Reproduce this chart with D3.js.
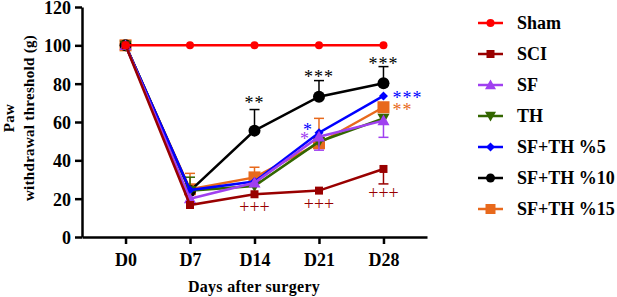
<!DOCTYPE html>
<html lang="en">
<head>
  <meta charset="UTF-8">
  <title>Paw withdrawal threshold</title>
  <script src="https://d3js.org/d3.v7.min.js"></script>
  <style>
    body { margin: 0; background: #fff; }
    svg text { font-family: "Liberation Serif", "Times New Roman", serif; }
  </style>
</head>
<body>
  <div id="chart"></div>
  <script>
    // days and group values (g)
    const days = ["D0", "D7", "D14", "D21", "D28"];
    const yTicks = [0, 20, 40, 60, 80, 100, 120];

    const sham = [100, 100, 100, 100, 100];
    const sci = [100, 16.7, 22.3, 24.2, 35.5];
    const sf = [100, 20.0, 28.3, 52.3, 60.7];
    const th = [100, 24.2, 26.6, 49.7, 61.9];
    const sfth5 = [100, 24.5, 28.9, 54.4, 73.6];
    const sfth10 = [100, 24.0, 55.5, 73.2, 80.2];
    const sfth15 = [100, 24.9, 31.1, 48.9, 67.7];

    // error bars (positive = drawn up, negative = drawn down)
    const sciErr = [0, 0, 0, 0, -7.8];
    const sfErr = [0, 0, 0, -7, -8.7];
    const thErr = [0, 7, 0, 0, 0];
    const sfth5Err = [0, 0, 0, 0, 0];
    const sfth10Err = [0, 0, 11, 8.4, 8.7];
    const sfth15Err = [0, 8.3, 5.3, 13, 0];

    // legend order
    const groups = [
      { name: "Sham", values: sham, err: null, color: "#ff0000", shape: "circle", size: 4 },
      { name: "SCI", values: sci, err: sciErr, color: "#990000", shape: "square", size: 8 },
      { name: "SF", values: sf, err: sfErr, color: "#a040f0", shape: "tri", size: 11 },
      { name: "TH", values: th, err: thErr, color: "#336600", shape: "tridown", size: 11 },
      { name: "SF+TH %5", values: sfth5, err: sfth5Err, color: "#0000ff", shape: "diamond", size: 9 },
      { name: "SF+TH %10", values: sfth10, err: sfth10Err, color: "#000000", shape: "circle", size: 6 },
      { name: "SF+TH %15", values: sfth15, err: sfth15Err, color: "#e8691c", shape: "square", size: 12 }
    ];
    // order in which lines are stacked
    const drawOrder = ["SF+TH %15", "SF+TH %10", "TH", "SF+TH %5", "SF", "SCI", "Sham"];

    // significance marks: day, value, text, colour, dx, anchor
    const marks = [
      { day: "D14", v: 71.5, t: "**", c: "#000", dx: 0, a: "middle" },
      { day: "D21", v: 85, t: "***", c: "#000", dx: 0, a: "middle" },
      { day: "D28", v: 91.8, t: "***", c: "#000", dx: 0, a: "middle" },
      { day: "D21", v: 57.4, t: "*", c: "#0000ff", dx: -11, a: "middle" },
      { day: "D21", v: 52.7, t: "*", c: "#a040f0", dx: -14, a: "middle" },
      { day: "D28", v: 74, t: "***", c: "#0000ff", dx: 9, a: "start" },
      { day: "D28", v: 67.8, t: "**", c: "#e8691c", dx: 9, a: "start" }
    ];
    const crosses = [
      { day: "D14", v: 15.6 },
      { day: "D21", v: 17.2 },
      { day: "D28", v: 23 }
    ];

    const W = 617, H = 297;
    const svg = d3.select("#chart").append("svg")
      .attr("width", W).attr("height", H);

    const x = d3.scalePoint().domain(days).range([82, 427]).padding(0.675);
    const y = d3.scaleLinear().domain([0, 120]).range([237, 7]);

    // axes
    const yAxis = svg.append("g")
      .attr("transform", "translate(82,0)")
      .call(d3.axisLeft(y).tickValues(yTicks).tickSize(7).tickPadding(4).tickSizeOuter(0));
    const xAxis = svg.append("g")
      .attr("transform", "translate(0,237)")
      .call(d3.axisBottom(x).tickSize(7).tickPadding(9).tickSizeOuter(0));

    [yAxis, xAxis].forEach(g => {
      g.select(".domain").attr("stroke", "#000").attr("stroke-width", 2.5);
      g.selectAll(".tick line").attr("stroke", "#000").attr("stroke-width", 2.5);
      g.selectAll(".tick text")
        .attr("fill", "#000")
        .attr("font-family", "Liberation Serif, Times New Roman, serif")
        .attr("font-weight", "bold")
        .attr("font-size", 18);
    });
    yAxis.selectAll(".tick text").attr("dy", "0.36em");

    // axis titles
    svg.append("text")
      .attr("x", 254).attr("y", 292)
      .attr("text-anchor", "middle")
      .attr("font-weight", "bold").attr("font-size", 16)
      .attr("letter-spacing", 0.3)
      .text("Days after surgery");

    const yt = svg.append("text")
      .attr("transform", "translate(0,118) rotate(-90)")
      .attr("text-anchor", "middle")
      .attr("font-weight", "bold").attr("font-size", 15)
      .attr("letter-spacing", 0.3);
    yt.append("tspan").attr("x", 0).attr("y", 14).text("Paw");
    yt.append("tspan").attr("x", 0).attr("y", 34).text("withdrawal threshold (g)");

    function symbolPath(shape, size) {
      const s = size;
      if (shape === "square") return `M${-s / 2},${-s / 2}h${s}v${s}h${-s}Z`;
      if (shape === "tri") return `M0,${-s * 0.55}L${s * 0.55},${s * 0.42}L${-s * 0.55},${s * 0.42}Z`;
      if (shape === "tridown") return `M0,${s * 0.55}L${s * 0.55},${-s * 0.42}L${-s * 0.55},${-s * 0.42}Z`;
      if (shape === "diamond") return `M0,${-s / 2}L${s / 2},0L0,${s / 2}L${-s / 2},0Z`;
      return null;
    }

    function drawMarker(g, d, cx, cy) {
      if (d.shape === "circle") {
        g.append("circle").attr("cx", cx).attr("cy", cy).attr("r", d.size).attr("fill", d.color);
      } else {
        g.append("path")
          .attr("transform", `translate(${cx},${cy})`)
          .attr("d", symbolPath(d.shape, d.size))
          .attr("fill", d.color);
      }
    }

    const line = d3.line().x((v, i) => x(days[i])).y(v => y(v));
    const plot = svg.append("g");

    drawOrder.forEach(name => {
      const d = groups.find(g => g.name === name);
      const g = plot.append("g");

      if (d.err) {
        d.err.forEach((e, i) => {
          if (!e) return;
          const cx = x(days[i]);
          const tip = y(d.values[i] + e);
          g.append("line")
            .attr("x1", cx).attr("x2", cx)
            .attr("y1", y(d.values[i])).attr("y2", tip)
            .attr("stroke", d.color).attr("stroke-width", 1.5);
          g.append("line")
            .attr("x1", cx - 5).attr("x2", cx + 5)
            .attr("y1", tip).attr("y2", tip)
            .attr("stroke", d.color).attr("stroke-width", 1.5);
        });
      }

      g.append("path")
        .datum(d.values)
        .attr("d", line)
        .attr("fill", "none")
        .attr("stroke", d.color)
        .attr("stroke-width", 2.5);

      d.values.forEach((v, i) => drawMarker(g, d, x(days[i]), y(v)));
    });

    // significance asterisks
    svg.selectAll(".sig")
      .data(marks)
      .enter().append("text")
      .attr("class", "sig")
      .attr("x", d => x(d.day) + d.dx)
      .attr("y", d => y(d.v) + 9)
      .attr("text-anchor", d => d.a)
      .attr("fill", d => d.c)
      .attr("font-size", 18)
      .attr("letter-spacing", 1)
      .text(d => d.t);

    svg.selectAll(".cross")
      .data(crosses)
      .enter().append("text")
      .attr("class", "cross")
      .attr("x", d => x(d.day))
      .attr("y", d => y(d.v) + 6)
      .attr("text-anchor", "middle")
      .attr("fill", "#990000")
      .attr("font-size", 18)
      .text("+++");

    // legend
    const leg = svg.append("g");
    groups.forEach((d, i) => {
      const ly = 23 + i * 31;
      const g = leg.append("g");
      g.append("line")
        .attr("x1", 478).attr("x2", 503)
        .attr("y1", ly).attr("y2", ly)
        .attr("stroke", d.color).attr("stroke-width", 2.5);
      drawMarker(g, { ...d, size: d.shape === "circle" ? Math.min(d.size, 4.5) : Math.min(d.size, 10) }, 490.5, ly);
      g.append("text")
        .attr("x", 517).attr("y", ly + 6)
        .attr("font-weight", "bold").attr("font-size", 18)
        .text(d.name);
    });
  </script>
</body>
</html>
